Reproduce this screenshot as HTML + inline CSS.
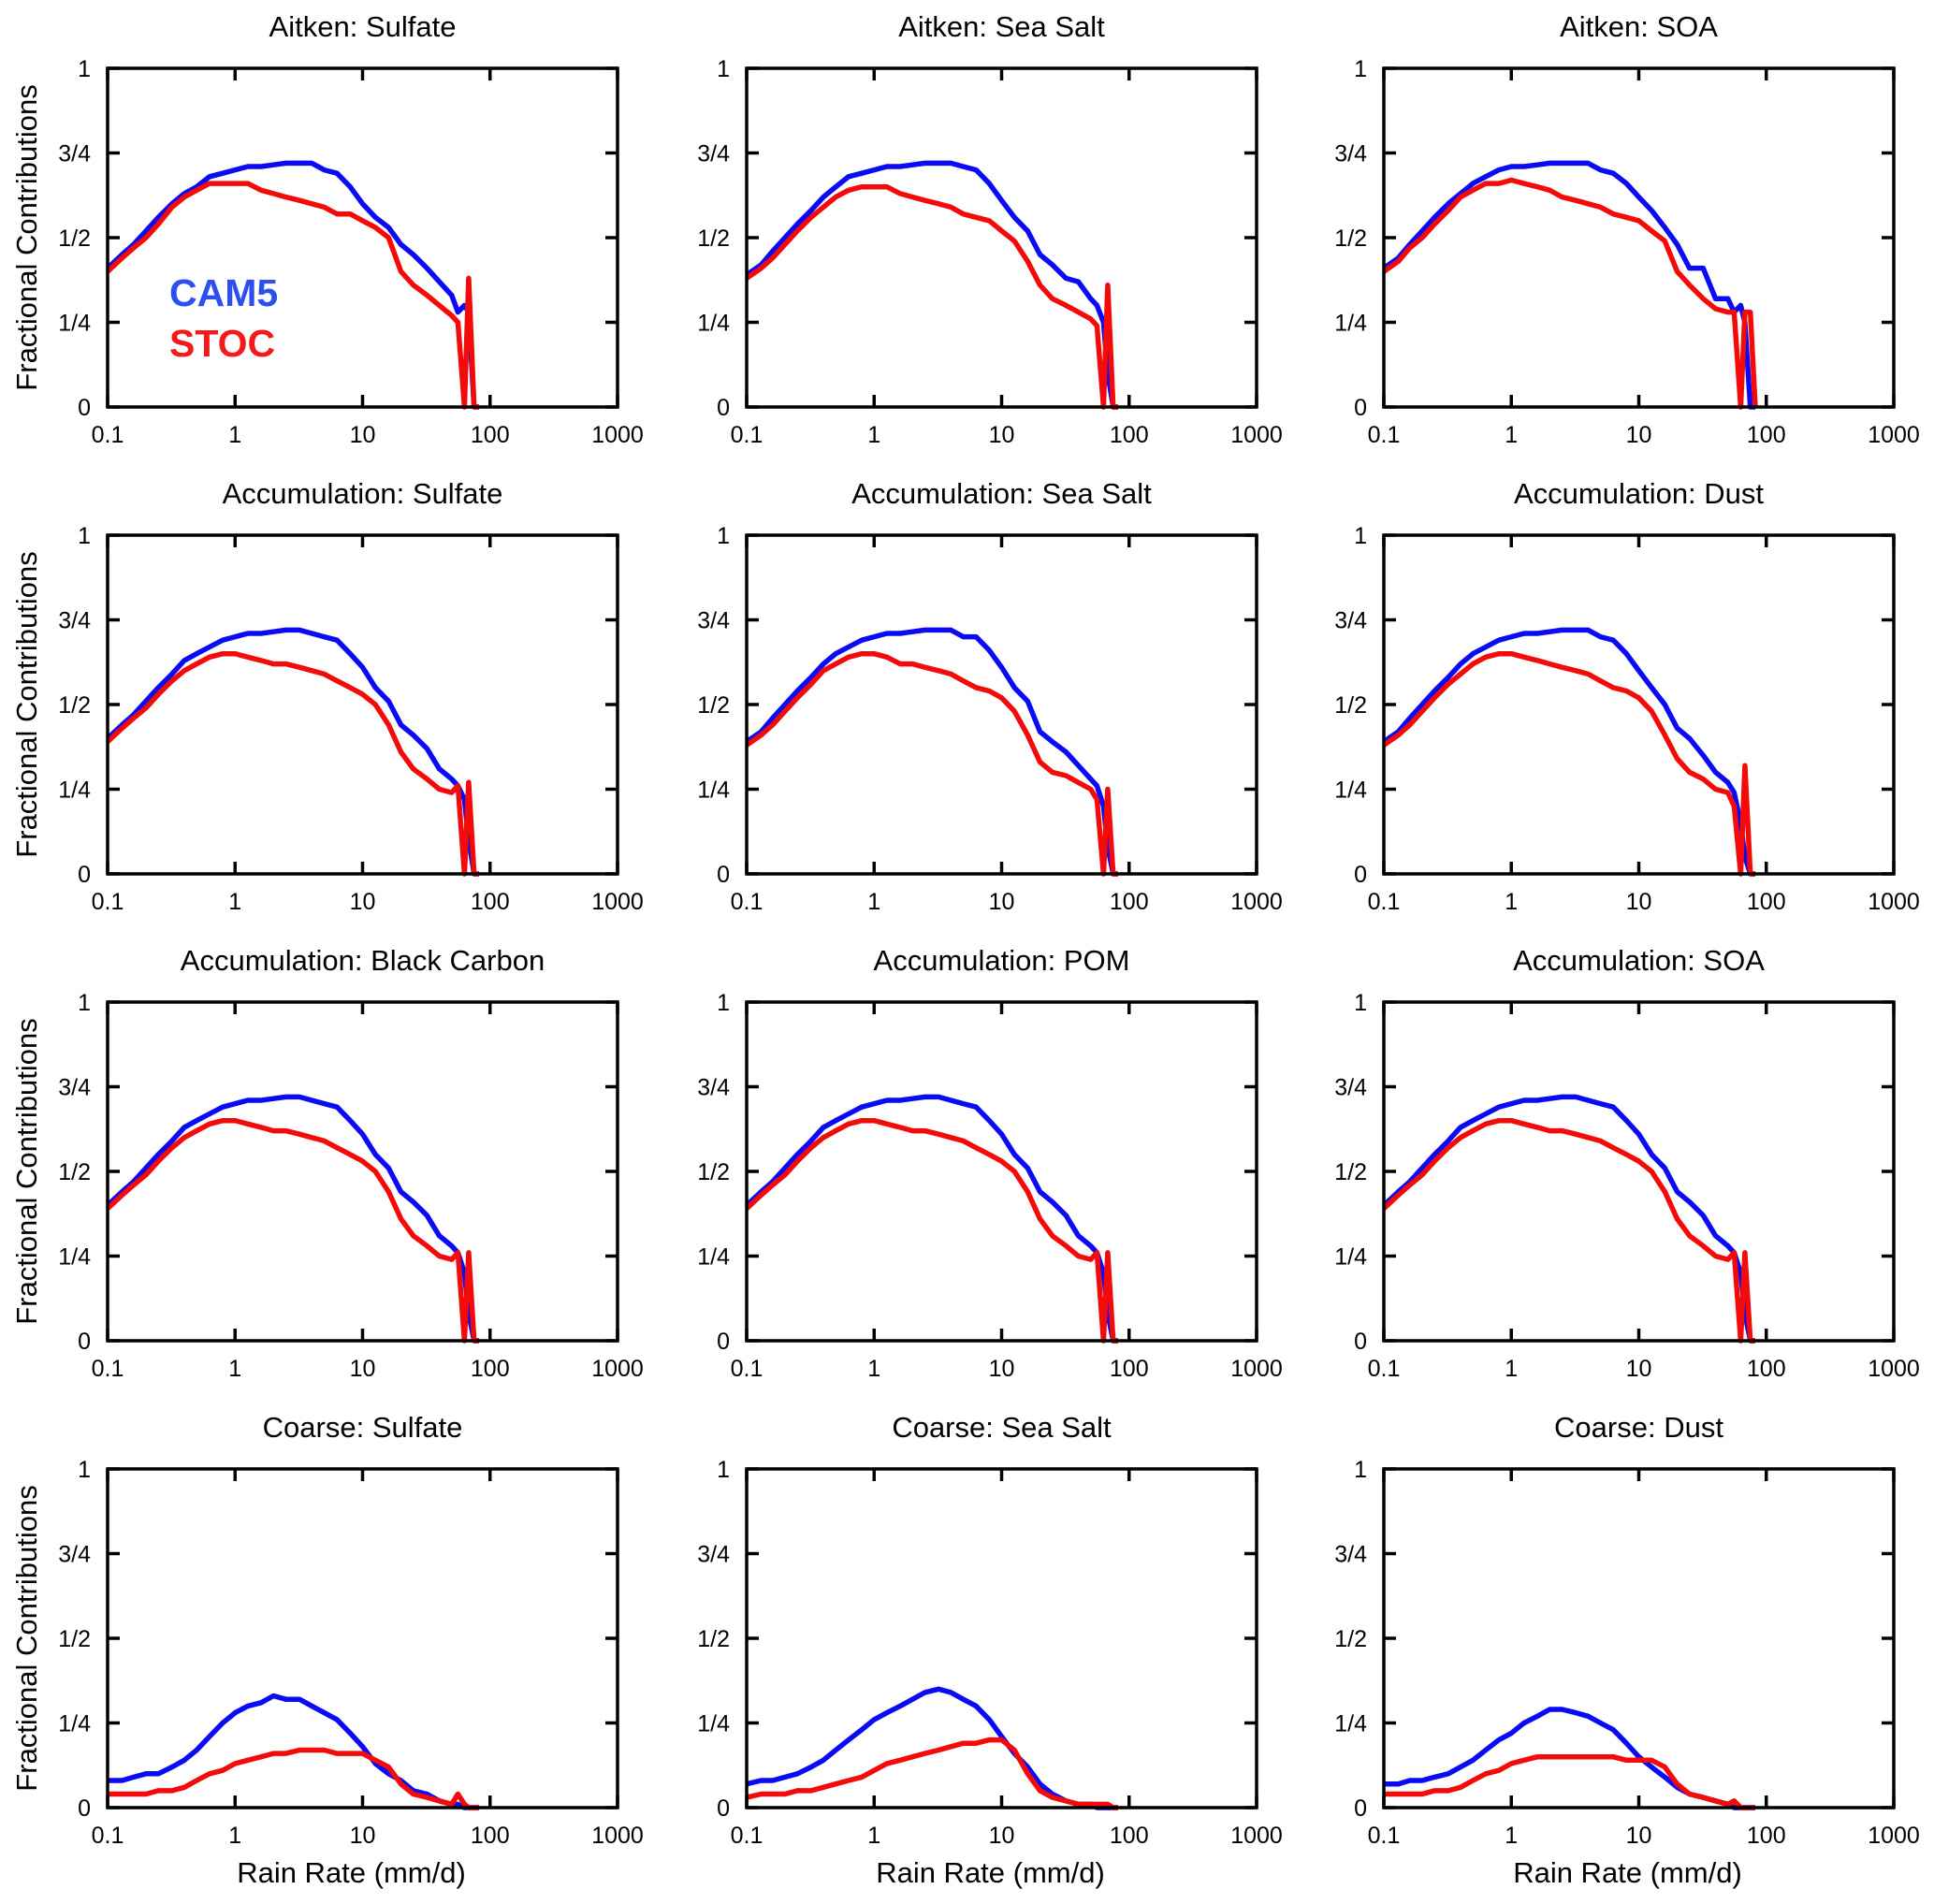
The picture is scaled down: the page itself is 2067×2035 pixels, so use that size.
<!DOCTYPE html>
<html><head><meta charset="utf-8"><style>
html,body{margin:0;padding:0;background:#fff;}
svg{display:block;font-family:"Liberation Sans",sans-serif;}
</style></head>
<body>
<svg id="fig" width="2067" height="2035" viewBox="0 0 2067 2035"></svg>
<script>
const X_VALUES=[0.1,0.13,0.16,0.2,0.25,0.32,0.4,0.5,0.63,0.8,1,1.26,1.6,2,2.5,3.2,4,5,6.3,8,10,12.6,16,20,25,32,40,50,56,63,68,75,82];
const X_TICKS=[0.1,1,10,100,1000];
const X_TICK_LABELS=["0.1","1","10","100","1000"];
const Y_TICKS=[0,0.25,0.5,0.75,1];
const Y_TICK_LABELS=["0","1/4","1/2","3/4","1"];
const TITLES=["Aitken: Sulfate","Aitken: Sea Salt","Aitken: SOA","Accumulation: Sulfate","Accumulation: Sea Salt","Accumulation: Dust","Accumulation: Black Carbon","Accumulation: POM","Accumulation: SOA","Coarse: Sulfate","Coarse: Sea Salt","Coarse: Dust"];
const CAM5_AIT_SULF=[0.41,0.45,0.48,0.52,0.56,0.60,0.63,0.65,0.68,0.69,0.70,0.71,0.71,0.715,0.72,0.72,0.72,0.70,0.69,0.65,0.60,0.56,0.53,0.48,0.45,0.41,0.37,0.33,0.28,0.30,0.28,0,0];
const STOC_AIT_SULF=[0.40,0.44,0.47,0.50,0.54,0.59,0.62,0.64,0.66,0.66,0.66,0.66,0.64,0.63,0.62,0.61,0.60,0.59,0.57,0.57,0.55,0.53,0.50,0.40,0.36,0.33,0.30,0.27,0.25,0,0.38,0,0];
const CAM5_AIT_SALT=[0.39,0.42,0.46,0.50,0.54,0.58,0.62,0.65,0.68,0.69,0.70,0.71,0.71,0.715,0.72,0.72,0.72,0.71,0.70,0.66,0.61,0.56,0.52,0.45,0.42,0.38,0.37,0.32,0.30,0.25,0.10,0,0];
const STOC_AIT_SALT=[0.38,0.41,0.44,0.48,0.52,0.56,0.59,0.62,0.64,0.65,0.65,0.65,0.63,0.62,0.61,0.60,0.59,0.57,0.56,0.55,0.52,0.49,0.43,0.36,0.32,0.30,0.28,0.26,0.24,0,0.36,0,0];
const CAM5_AIT_SOA=[0.41,0.44,0.48,0.52,0.56,0.60,0.63,0.66,0.68,0.70,0.71,0.71,0.715,0.72,0.72,0.72,0.72,0.70,0.69,0.66,0.62,0.58,0.53,0.48,0.41,0.41,0.32,0.32,0.28,0.30,0.25,0,0];
const STOC_AIT_SOA=[0.40,0.43,0.47,0.50,0.54,0.58,0.62,0.64,0.66,0.66,0.67,0.66,0.65,0.64,0.62,0.61,0.60,0.59,0.57,0.56,0.55,0.52,0.49,0.40,0.36,0.32,0.29,0.28,0.28,0,0.28,0.28,0];
const CAM5_ACC_SULF=[0.40,0.44,0.47,0.51,0.55,0.59,0.63,0.65,0.67,0.69,0.70,0.71,0.71,0.715,0.72,0.72,0.71,0.70,0.69,0.65,0.61,0.55,0.51,0.44,0.41,0.37,0.31,0.28,0.26,0.22,0.10,0,0];
const STOC_ACC_SULF=[0.39,0.43,0.46,0.49,0.53,0.57,0.60,0.62,0.64,0.65,0.65,0.64,0.63,0.62,0.62,0.61,0.60,0.59,0.57,0.55,0.53,0.50,0.44,0.36,0.31,0.28,0.25,0.24,0.26,0,0.27,0,0];
const CAM5_ACC_SALT=[0.39,0.42,0.46,0.50,0.54,0.58,0.62,0.65,0.67,0.69,0.70,0.71,0.71,0.715,0.72,0.72,0.72,0.70,0.70,0.66,0.61,0.55,0.51,0.42,0.39,0.36,0.32,0.28,0.26,0.20,0.08,0,0];
const STOC_ACC_SALT=[0.38,0.41,0.44,0.48,0.52,0.56,0.60,0.62,0.64,0.65,0.65,0.64,0.62,0.62,0.61,0.60,0.59,0.57,0.55,0.54,0.52,0.48,0.41,0.33,0.30,0.29,0.27,0.25,0.22,0,0.25,0,0];
const CAM5_ACC_DUST=[0.39,0.42,0.46,0.50,0.54,0.58,0.62,0.65,0.67,0.69,0.70,0.71,0.71,0.715,0.72,0.72,0.72,0.70,0.69,0.65,0.60,0.55,0.50,0.43,0.40,0.35,0.30,0.27,0.24,0.15,0.05,0,0];
const STOC_ACC_DUST=[0.38,0.41,0.44,0.48,0.52,0.56,0.59,0.62,0.64,0.65,0.65,0.64,0.63,0.62,0.61,0.60,0.59,0.57,0.55,0.54,0.52,0.48,0.41,0.34,0.30,0.28,0.25,0.24,0.20,0,0.32,0,0];
const CAM5_ACC_BC=[0.40,0.44,0.47,0.51,0.55,0.59,0.63,0.65,0.67,0.69,0.70,0.71,0.71,0.715,0.72,0.72,0.71,0.70,0.69,0.65,0.61,0.55,0.51,0.44,0.41,0.37,0.31,0.28,0.26,0.20,0.08,0,0];
const STOC_ACC_BC=[0.39,0.43,0.46,0.49,0.53,0.57,0.60,0.62,0.64,0.65,0.65,0.64,0.63,0.62,0.62,0.61,0.60,0.59,0.57,0.55,0.53,0.50,0.44,0.36,0.31,0.28,0.25,0.24,0.26,0,0.26,0,0];
const CAM5_ACC_POM=[0.40,0.44,0.47,0.51,0.55,0.59,0.63,0.65,0.67,0.69,0.70,0.71,0.71,0.715,0.72,0.72,0.71,0.70,0.69,0.65,0.61,0.55,0.51,0.44,0.41,0.37,0.31,0.28,0.26,0.20,0.08,0,0];
const STOC_ACC_POM=[0.39,0.43,0.46,0.49,0.53,0.57,0.60,0.62,0.64,0.65,0.65,0.64,0.63,0.62,0.62,0.61,0.60,0.59,0.57,0.55,0.53,0.50,0.44,0.36,0.31,0.28,0.25,0.24,0.26,0,0.26,0,0];
const CAM5_ACC_SOA=[0.40,0.44,0.47,0.51,0.55,0.59,0.63,0.65,0.67,0.69,0.70,0.71,0.71,0.715,0.72,0.72,0.71,0.70,0.69,0.65,0.61,0.55,0.51,0.44,0.41,0.37,0.31,0.28,0.26,0.20,0.08,0,0];
const STOC_ACC_SOA=[0.39,0.43,0.46,0.49,0.53,0.57,0.60,0.62,0.64,0.65,0.65,0.64,0.63,0.62,0.62,0.61,0.60,0.59,0.57,0.55,0.53,0.50,0.44,0.36,0.31,0.28,0.25,0.24,0.26,0,0.26,0,0];
const CAM5_CRS_SULF=[0.08,0.08,0.09,0.10,0.10,0.12,0.14,0.17,0.21,0.25,0.28,0.30,0.31,0.33,0.32,0.32,0.30,0.28,0.26,0.22,0.18,0.13,0.10,0.08,0.05,0.04,0.02,0.01,0.01,0,0,0,0];
const STOC_CRS_SULF=[0.04,0.04,0.04,0.04,0.05,0.05,0.06,0.08,0.10,0.11,0.13,0.14,0.15,0.16,0.16,0.17,0.17,0.17,0.16,0.16,0.16,0.14,0.12,0.07,0.04,0.03,0.02,0.01,0.04,0.01,0,0,0];
const CAM5_CRS_SALT=[0.07,0.08,0.08,0.09,0.10,0.12,0.14,0.17,0.20,0.23,0.26,0.28,0.30,0.32,0.34,0.35,0.34,0.32,0.30,0.26,0.21,0.16,0.12,0.07,0.04,0.02,0.01,0.01,0,0,0,0,0];
const STOC_CRS_SALT=[0.03,0.04,0.04,0.04,0.05,0.05,0.06,0.07,0.08,0.09,0.11,0.13,0.14,0.15,0.16,0.17,0.18,0.19,0.19,0.20,0.20,0.17,0.10,0.05,0.03,0.02,0.01,0.01,0.01,0.01,0.01,0,0];
const CAM5_CRS_DUST=[0.07,0.07,0.08,0.08,0.09,0.10,0.12,0.14,0.17,0.20,0.22,0.25,0.27,0.29,0.29,0.28,0.27,0.25,0.23,0.19,0.15,0.12,0.09,0.06,0.04,0.03,0.02,0.01,0,0,0,0,0];
const STOC_CRS_DUST=[0.04,0.04,0.04,0.04,0.05,0.05,0.06,0.08,0.10,0.11,0.13,0.14,0.15,0.15,0.15,0.15,0.15,0.15,0.15,0.14,0.14,0.14,0.12,0.07,0.04,0.03,0.02,0.01,0.02,0,0,0,0];

const CAM5=[CAM5_AIT_SULF,CAM5_AIT_SALT,CAM5_AIT_SOA,CAM5_ACC_SULF,CAM5_ACC_SALT,CAM5_ACC_DUST,CAM5_ACC_BC,CAM5_ACC_POM,CAM5_ACC_SOA,CAM5_CRS_SULF,CAM5_CRS_SALT,CAM5_CRS_DUST];
const STOC=[STOC_AIT_SULF,STOC_AIT_SALT,STOC_AIT_SOA,STOC_ACC_SULF,STOC_ACC_SALT,STOC_ACC_DUST,STOC_ACC_BC,STOC_ACC_POM,STOC_ACC_SOA,STOC_CRS_SULF,STOC_CRS_SALT,STOC_CRS_DUST];

const NS="http://www.w3.org/2000/svg";
const svg=document.getElementById('fig');
function mk(tag,attrs,parent){const e=document.createElementNS(NS,tag);for(const k in attrs)e.setAttribute(k,attrs[k]);(parent||svg).appendChild(e);return e;}
const colL=[115,798,1479], plotW=545;
const rowT=[73,572,1071,1570], plotH=362;
const slug=s=>s.toLowerCase().replace(/[^a-z0-9]+/g,'-').replace(/-$/,'');
TITLES.forEach((title,i)=>{
  const L=colL[i%3], T=rowT[Math.floor(i/3)], B=T+plotH, R=L+plotW;
  const xs=v=>L+(Math.log10(v)+1)/4*plotW;
  const ys=v=>B-v*plotH;
  const g=mk('g',{});
  
  
  const t=mk('text',{x:(L+R)/2,y:T-34,'text-anchor':'middle','font-size':31,fill:'#000'},g);
  t.textContent=title;
  
  
  [[CAM5[i],'#0a0af5','cam5-line'],[STOC[i],'#f50a0a','stoc-line']].forEach(([vals,col,nm])=>{
    const d=vals.map((v,k)=>(k?'L':'M')+xs(X_VALUES[k]).toFixed(1)+','+ys(v).toFixed(1)).join('');
    const p=mk('path',{d:d,fill:'none',stroke:col,'stroke-width':5.5,'stroke-linejoin':'round'},g);
    
    
  });
  const fr=mk('rect',{x:L,y:T,width:plotW,height:plotH,fill:'none',stroke:'#000','stroke-width':3.5},g);
  
  
  X_TICKS.forEach((v,k)=>{
    const x=xs(v);
    mk('line',{x1:x,y1:B,x2:x,y2:B-13,stroke:'#000','stroke-width':3.5},g);
    mk('line',{x1:x,y1:T,x2:x,y2:T+13,stroke:'#000','stroke-width':3.5},g);
    const tl=mk('text',{x:x,y:B+38,'text-anchor':'middle','font-size':25},g);
    tl.textContent=X_TICK_LABELS[k];
    
    
  });
  Y_TICKS.forEach((v,k)=>{
    const y=ys(v);
    mk('line',{x1:L,y1:y,x2:L+13,y2:y,stroke:'#000','stroke-width':3.5},g);
    mk('line',{x1:R,y1:y,x2:R-13,y2:y,stroke:'#000','stroke-width':3.5},g);
    const tl=mk('text',{x:L-18,y:y+9,'text-anchor':'end','font-size':25},g);
    tl.textContent=Y_TICK_LABELS[k];
    
    
  });
  if(i%3===0){
    const yt=mk('text',{x:0,y:0,'text-anchor':'middle','font-size':31,transform:`translate(39,${(T+B)/2}) rotate(-90)`},g);
    yt.textContent='Fractional Contributions';
    
    
  }
  if(i>=9){
    const xt=mk('text',{x:(L+R)/2-12,y:B+80,'text-anchor':'middle','font-size':31},g);
    xt.textContent='Rain Rate (mm/d)';
    
    
  }
  if(i===0){
    const a=mk('text',{x:181,y:327,'font-size':41,'font-weight':'bold',fill:'#2c4ff2'},g);
    a.textContent='CAM5';
    
    
    const b=mk('text',{x:181,y:381,'font-size':41,'font-weight':'bold',fill:'#f21a1a'},g);
    b.textContent='STOC';
    
    
  }
});
</script>
</body></html>
